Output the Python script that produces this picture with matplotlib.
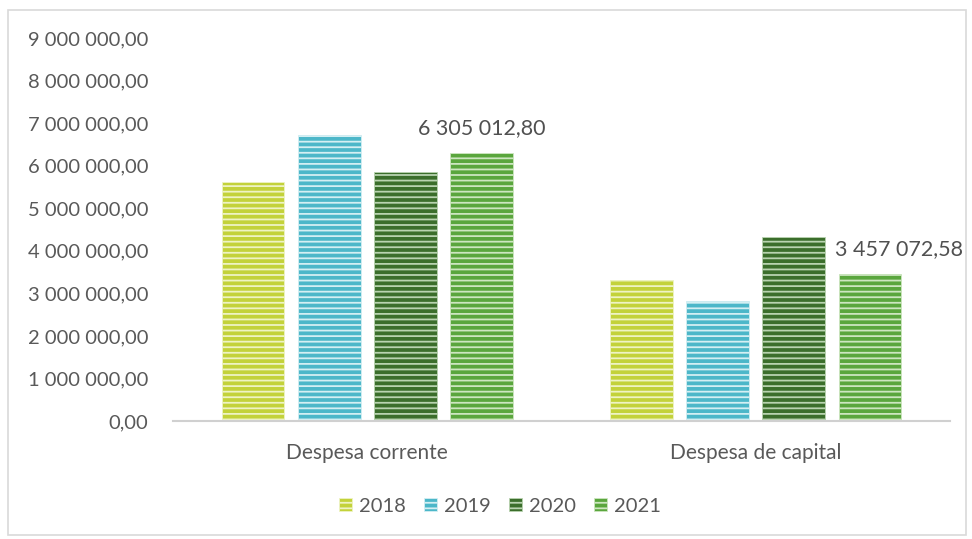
import matplotlib.pyplot as plt
from matplotlib.patches import Rectangle
import numpy as np

categorias = ["Despesa corrente", "Despesa de capital"]
anos = ["2018", "2019", "2020", "2021"]
valores = {
    "2018": [5620000, 3310000],
    "2019": [6720000, 2820000],
    "2020": [5850000, 4330000],
    "2021": [6305012.80, 3457072.58],
}
cores = ["#c3d23a", "#4cb7c9", "#3b6e2b", "#5aa63d"]
riscas = ["#eef3c4", "#d4eff3", "#b9d3b0", "#cde6c0"]

def fmt(v):
    s = f"{v:,.2f}"
    return s.replace(",", " ").replace(".", ",")

plt.rcParams['font.family'] = ['Lato', 'DejaVu Sans']
plt.rcParams['hatch.linewidth'] = 1.3

fig = plt.figure(figsize=(9.72, 5.39), dpi=100)
ax = fig.add_axes([173/972, 1-421/539, (950-173)/972, (421-38)/539])

x = np.arange(len(categorias))
largura = 0.162
passo = 0.196
for i, ano in enumerate(anos):
    pos = x + (i - 1.5) * passo
    ax.bar(pos, valores[ano], largura, color=cores[i], edgecolor=riscas[i],
           linewidth=0.6, hatch='---', label=ano)

# rótulos dos valores de 2021
ax.annotate(fmt(valores["2021"][0]), (x[0] + 1.5*passo, valores["2021"][0]),
            xytext=(0, 25), textcoords='offset pixels', ha='center', va='center',
            fontsize=15.5, color='#505050')
ax.annotate(fmt(valores["2021"][1]), (x[1] + 1.5*passo, valores["2021"][1]),
            xytext=(29, 25), textcoords='offset pixels', ha='center', va='center',
            fontsize=15.5, color='#505050')

ax.set_xlim(-0.5, 1.5)
ax.set_ylim(0, 9000000)
ax.set_yticks(np.arange(0, 9000001, 1000000))
ax.set_yticklabels([fmt(v) for v in np.arange(0, 9000001, 1000000)])
ax.set_xticks(x)
ax.set_xticklabels(categorias)
ax.tick_params(axis='both', length=0, colors='#595959')
ax.tick_params(axis='y', pad=18, labelsize=14.5)
ax.tick_params(axis='x', pad=16, labelsize=15)
for s in ['top', 'right', 'left']:
    ax.spines[s].set_visible(False)
ax.spines['bottom'].set_color('#d0d0d0')
ax.spines['bottom'].set_linewidth(1.5)

leg = fig.legend(loc='center', bbox_to_anchor=(500/972, 1-506/539), ncol=4,
                 frameon=False, fontsize=14.5, handlelength=0.65, handleheight=0.65,
                 handletextpad=0.35, columnspacing=0.9, labelcolor='#595959')

fig.patches.append(Rectangle((8/972, 4/539), 958/972, 1-14/539, transform=fig.transFigure,
                             fill=False, edgecolor='#d9d9d9', linewidth=1.2))

fig.savefig("out.png", dpi=100)
